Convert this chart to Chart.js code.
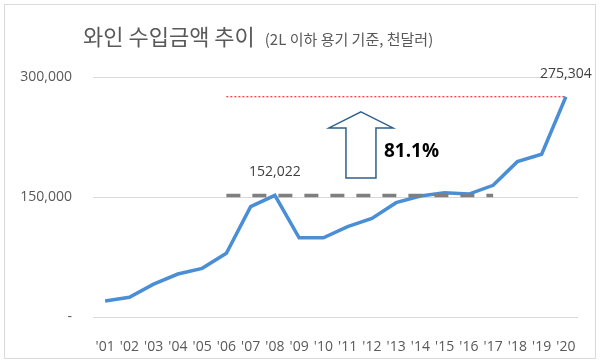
<!DOCTYPE html>
<html>
<head>
<meta charset="utf-8">
<script src="https://cdn.jsdelivr.net/npm/chart.js@4"></script>
<style>
  body { margin: 0; background: #fff; }
  canvas { display: block; }
</style>
</head>
<body>
<canvas id="wineChart" width="600" height="363"></canvas>
<script>
var titleText = '와인 수입금액 추이'
var subtitleText = '(2L 이하 용기 기준, 천달러)'

var years = ["'01", "'02", "'03", "'04", "'05", "'06", "'07", "'08", "'09", "'10",
  "'11", "'12", "'13", "'14", "'15", "'16", "'17", "'18", "'19", "'20"]
// wine imports, containers of 2L or less, thousand USD
var imports = [20000, 24600, 41000, 53700, 60800, 79600, 137900, 152022, 99000, 99000,
  112900, 123300, 142900, 151200, 155400, 153700, 164600, 194200, 203400, 275304]

var yTicks = [0, 150000, 300000]
var labelledYears = ["'08", "'20"]
var baseYear = "'08"
var peakYear = "'20"
var baseSpan = ["'06", "'17"]
var peakSpan = ["'06", "'20"]

var baseValue = imports[years.indexOf(baseYear)]
var peakValue = imports[years.indexOf(peakYear)]

function spanData (span, value) {
  var from = years.indexOf(span[0])
  var to = years.indexOf(span[1])
  return years.map(function (y, i) { return (i >= from && i <= to) ? value : null })
}

function fmt (v) {
  return v === 0 ? '-' : v.toLocaleString('en-US')
}

var numFont = '"Open Sans", "Noto Sans", sans-serif'
var krFont = '"Noto Sans CJK KR", "Noto Sans", sans-serif'

var annotations = {
  id: 'annotations',
  beforeDraw: function (chart) {
    var ctx = chart.ctx
    ctx.save()
    ctx.fillStyle = '#ffffff'
    ctx.fillRect(0, 0, chart.width, chart.height)
    ctx.strokeStyle = '#d9d9d9'
    ctx.lineWidth = 1
    ctx.strokeRect(4.5, 4.5, 591, 354)

    ctx.fillStyle = '#595959'
    ctx.textBaseline = 'middle'
    ctx.textAlign = 'left'
    ctx.font = '22px ' + krFont
    ctx.fillText(titleText, 83, 37)
    var w = ctx.measureText(titleText).width
    ctx.font = '15px ' + krFont
    ctx.fillText(subtitleText, 83 + w + 10, 39)
    ctx.restore()
  },
  afterDatasetsDraw: function (chart) {
    var ctx = chart.ctx
    var x = chart.scales.x
    var y = chart.scales.y
    ctx.save()

    // value labels
    ctx.font = '14px ' + numFont
    ctx.fillStyle = '#404040'
    ctx.textAlign = 'center'
    ctx.textBaseline = 'middle'
    labelledYears.forEach(function (yr) {
      var i = years.indexOf(yr)
      ctx.fillText(fmt(imports[i]), x.getPixelForValue(i), y.getPixelForValue(imports[i]) - 23)
    })

    // growth arrow between base and peak
    var yBase = y.getPixelForValue(baseValue)
    var yPeak = y.getPixelForValue(peakValue)
    var gap = yBase - yPeak
    var cx = x.getPixelForValue(10.55)
    var bottom = yBase - gap * 0.176
    var tip = yPeak + gap * 0.154
    var headH = 16
    var headW = 32
    var shaftW = 15
    ctx.beginPath()
    ctx.moveTo(cx, tip)
    ctx.lineTo(cx + headW, tip + headH)
    ctx.lineTo(cx + shaftW, tip + headH)
    ctx.lineTo(cx + shaftW, bottom)
    ctx.lineTo(cx - shaftW, bottom)
    ctx.lineTo(cx - shaftW, tip + headH)
    ctx.lineTo(cx - headW, tip + headH)
    ctx.closePath()
    ctx.fillStyle = '#ffffff'
    ctx.fill()
    ctx.strokeStyle = '#2f5f8c'
    ctx.lineWidth = 1.5
    ctx.stroke()

    var pct = ((peakValue / baseValue - 1) * 100).toFixed(1) + '%'
    ctx.font = 'bold 19px ' + numFont
    ctx.fillStyle = '#000000'
    ctx.textAlign = 'left'
    ctx.fillText(pct, cx + shaftW + 8, yBase - gap * 0.44)
    ctx.restore()
  }
}

var ctx = document.getElementById('wineChart').getContext('2d')
new Chart(ctx, {
  type: 'line',
  data: {
    labels: years,
    datasets: [
      {
        label: 'base',
        data: spanData(baseSpan, baseValue),
        borderColor: '#7f7f7f',
        borderWidth: 3.5,
        borderDash: [14, 12],
        pointRadius: 0,
        order: 1
      },
      {
        label: 'peak',
        data: spanData(peakSpan, peakValue),
        borderColor: '#ff0000',
        borderWidth: 1,
        borderDash: [2, 2],
        pointRadius: 0,
        order: 3
      },
      {
        label: 'imports',
        data: imports,
        borderColor: '#4a8fd6',
        borderWidth: 3.5,
        pointRadius: 0,
        tension: 0,
        order: 2
      }
    ]
  },
  options: {
    responsive: false,
    devicePixelRatio: 1,
    animation: false,
    layout: { padding: { top: 77, right: 22, bottom: 0, left: 0 } },
    plugins: {
      legend: { display: false },
      title: { display: false },
      tooltip: { enabled: false }
    },
    scales: {
      x: {
        offset: true,
        grid: { display: false },
        border: { display: false },
        ticks: {
          color: '#595959',
          font: { family: numFont, size: 14 },
          padding: 14,
          maxRotation: 0,
          autoSkip: false
        },
        afterFit: function (scale) { scale.height = 46 }
      },
      y: {
        min: 0,
        max: 300000,
        afterBuildTicks: function (scale) {
          scale.ticks = yTicks.map(function (v) { return { value: v } })
        },
        grid: { color: '#d9d9d9', lineWidth: 1, drawTicks: false },
        border: { display: false },
        ticks: {
          color: '#595959',
          font: { family: numFont, size: 14 },
          padding: 21,
          callback: function (v) { return fmt(v) }
        },
        afterFit: function (scale) { scale.width = 93 }
      }
    }
  },
  plugins: [annotations]
})
</script>
</body>
</html>
